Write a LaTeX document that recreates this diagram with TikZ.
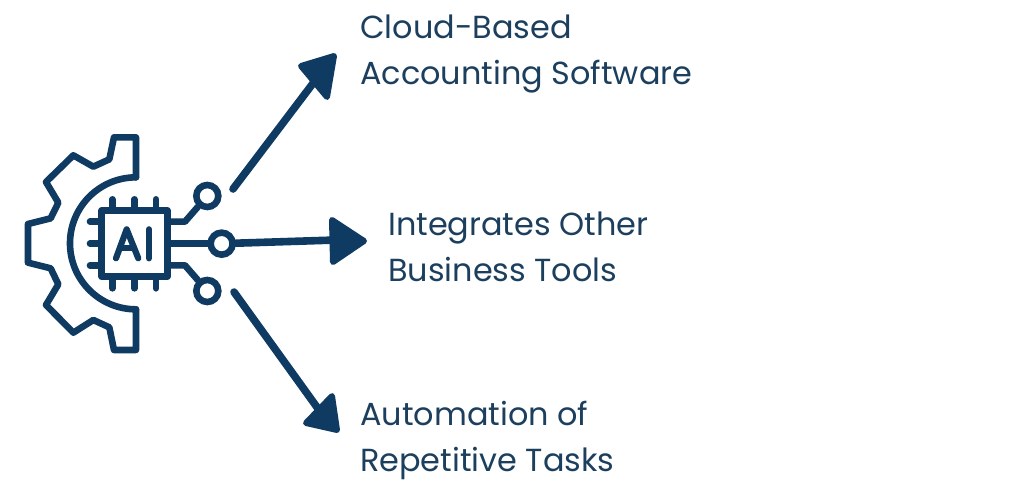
\documentclass[tikz,border=0pt]{standalone}
\usepackage{fontspec}
\setmainfont{Poppins}
\definecolor{navy}{HTML}{0F3B63}
\definecolor{labelc}{HTML}{1C3F5E}
\tikzset{
 icon/.style={draw=navy,line width=6.6pt,line cap=round,line join=round},
 ring/.style={circle,draw=navy,line width=6.6pt,fill=white,minimum size=22pt,inner sep=0pt},
 flow/.style={draw=navy,line width=7.6pt,line cap=round},
 headtip/.style={draw=navy,fill=navy,line width=6pt,line join=round},
 lab/.style={anchor=west,align=left,inner sep=0pt,text=labelc,font=\fontsize{31.9}{46}\selectfont},
}
\begin{document}
\begin{tikzpicture}[x=1pt,y=-1pt]
\useasboundingbox (0,0) rectangle (1024,493);
\fill[white] (0,0) rectangle (1024,493);
% gear outline (coordinates in picture pixels)
\begin{scope}[shift={(10,120)},x=0.3333pt,y=-0.3333pt]
\draw[icon] (378,172) -- (378,52) -- (312,52) -- (298,118) -- (250,140) -- (190,106) -- (108,186) -- (145,248) -- (122,295) -- (54,312) -- (54,428) -- (122,445) -- (145,493) -- (108,555) -- (190,638) -- (250,600) -- (298,622) -- (312,690) -- (378,690) -- (378,568);
\draw[icon] (378,172) arc[start angle=-90,end angle=-270,radius=198];
\coordinate (chipTL) at (275,272);
\coordinate (chipBR) at (472,470);
\draw[icon] (chipTL) rectangle (chipBR);
\foreach \p in {307,373,438}{
 \draw[icon] (\p,238) -- (\p,272);
 \draw[icon] (\p,470) -- (\p,505);
}
\foreach \p in {305,371,436}{
 \draw[icon] (240,\p) -- (275,\p);
}
\draw[icon,line width=6.2pt] (318,415) -- (350,328) -- (385,415);
\draw[icon,line width=6.2pt] (332,385) -- (372,385);
\draw[icon,line width=6.2pt] (417,328) -- (417,415);
\node[ring] (c1) at (592,228) {};
\node[ring] (c2) at (635,371) {};
\node[ring] (c3) at (592,513) {};
\draw[icon] (472,305) -- (525,305) -- (c1);
\draw[icon] (472,371) -- (c2);
\draw[icon] (472,436) -- (525,436) -- (c3);
\end{scope}
\coordinate (s1) at (233,189);
\coordinate (e1) at (314,82);
\coordinate (s3) at (234,292);
\coordinate (e3) at (319,410);
\coordinate (e2) at (336,240);
\draw[flow] (s1) -- (e1);
\draw[flow] (c2) -- (e2);
\draw[flow] (s3) -- (e3);
\fill[headtip] (301,66) -- (334,56) -- (327,97) -- cycle;
\fill[headtip] (332,220) -- (364,241) -- (333,262) -- cycle;
\fill[headtip] (332,396) -- (337,430) -- (306,423) -- cycle;
\node[lab] (t1) at (360,54) {Cloud-Based\\Accounting Software};
\node[lab] (t2) at (388,247) {Integrates Other\\Business Tools};
\node[lab] (t3) at (360,440) {Automation of\\Repetitive Tasks};
\end{tikzpicture}
\end{document}
